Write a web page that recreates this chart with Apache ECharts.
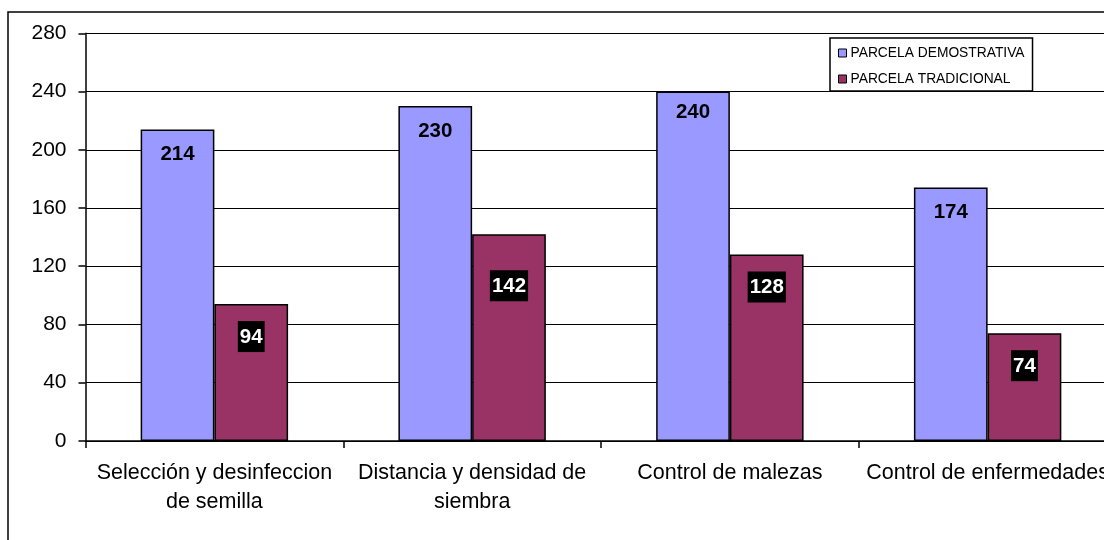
<!DOCTYPE html>
<html>
<head>
<meta charset="utf-8">
<script src="https://cdn.jsdelivr.net/npm/echarts@6/dist/echarts.min.js"></script>
<style>
html,body{margin:0;padding:0;background:#fff;overflow:hidden;width:1104px;height:540px;}
#chart{width:1140px;height:560px;}
</style>
</head>
<body>
<div id="chart"></div>
<script>
const categories = ['Selección y desinfeccion\nde semilla', 'Distancia y densidad de\nsiembra', 'Control de malezas', 'Control de enfermedades'];
const demostrativa = [214, 230, 240, 174];
const tradicional = [94, 142, 128, 74];
const seriesNames = ['PARCELA DEMOSTRATIVA', 'PARCELA TRADICIONAL'];
const yTicks = [0, 40, 80, 120, 160, 200, 240, 280];

const font = 'Arial, "Liberation Sans", sans-serif';
const chart = echarts.init(document.getElementById('chart'));

const option = {
  animation: false,
  backgroundColor: '#fff',
  textStyle: { fontFamily: font },
  graphic: [{
    type: 'rect', z: 100, silent: true,
    shape: { x: 8, y: 12, width: 1125, height: 545 },
    style: { fill: 'none', stroke: '#000', lineWidth: 1.5 }
  }],
  legend: {
    orient: 'vertical',
    left: 830, top: 38,
    padding: [8, 8, 5, 8],
    itemWidth: 8, itemHeight: 8, itemGap: 12,
    backgroundColor: '#fff',
    borderColor: '#000', borderWidth: 1.5,
    borderRadius: 0,
    icon: 'rect',
    itemStyle: { borderColor: '#000', borderWidth: 1 },
    textStyle: { fontFamily: font, fontSize: 13.8, color: '#000', lineHeight: 14, padding: [0, 0, 0, -1] },
    data: seriesNames
  },
  grid: { left: 85.5, top: 33.3, width: 1031, height: 407.6, containLabel: false },
  xAxis: {
    type: 'category',
    data: categories,
    axisLine: { lineStyle: { color: '#000', width: 1.5 } },
    axisTick: { show: true, length: 7, lineStyle: { color: '#000', width: 1.5 } },
    axisLabel: { interval: 0, color: '#000', fontSize: 21.5, fontFamily: font, lineHeight: 29, margin: 18 },
    splitLine: { show: false }
  },
  yAxis: {
    type: 'value',
    min: yTicks[0], max: yTicks[yTicks.length - 1], interval: 40,
    axisLine: { show: true, lineStyle: { color: '#000', width: 1.5 } },
    axisTick: { show: true, length: 7, lineStyle: { color: '#000', width: 1.5 } },
    axisLabel: { color: '#000', fontSize: 21, fontFamily: font, margin: 19 },
    splitLine: { show: true, lineStyle: { color: '#000', width: 1.2 } }
  },
  series: [
    {
      name: seriesNames[0],
      type: 'bar',
      data: demostrativa.map((v, i) => i === 2 ? { value: v, label: { distance: 11 } } : v),
      barWidth: '28.6%',
      barGap: '0%',
      itemStyle: { color: '#9999FF', borderColor: '#000', borderWidth: 1.5 },
      label: {
        show: true, position: 'insideTop', distance: 15,
        color: '#000', fontWeight: 'bold', fontSize: 20.5, fontFamily: font, lineHeight: 20
      }
    },
    {
      name: seriesNames[1],
      type: 'bar',
      data: tradicional.map((v, i) => i === 1 ? { value: v, label: { distance: 36 } } : v),
      barWidth: '28.6%',
      barGap: '0%',
      itemStyle: { color: '#993366', borderColor: '#000', borderWidth: 1.5 },
      label: {
        show: true, position: 'insideTop', distance: 17,
        color: '#fff', fontWeight: 'bold', fontSize: 20.5, fontFamily: font, lineHeight: 20,
        backgroundColor: '#000', padding: [6, 2, 5, 2]
      }
    }
  ]
};
chart.setOption(option);
</script>
</body>
</html>
